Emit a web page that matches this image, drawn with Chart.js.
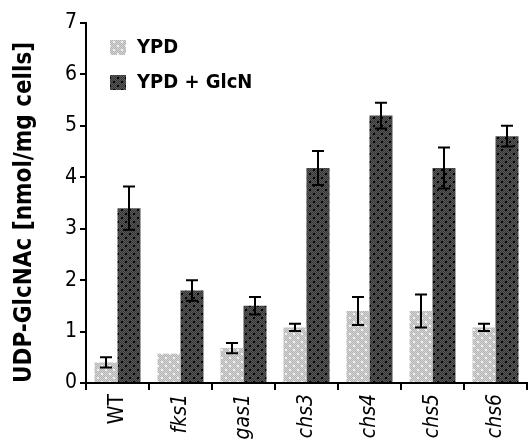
<!DOCTYPE html>
<html>
<head>
<meta charset="utf-8">
<script src="https://cdn.jsdelivr.net/npm/chart.js@4"></script>
<style>
  html, body { margin: 0; padding: 0; background: #fff; }
  #wrap { width: 528px; height: 444px; }
</style>
</head>
<body>
<div id="wrap"><canvas id="chart" width="528" height="444"></canvas></div>
<script>
const strains = ['WT', 'fks1', 'gas1', 'chs3', 'chs4', 'chs5', 'chs6'];
const ypd = [0.40, 0.57, 0.68, 1.08, 1.40, 1.40, 1.08];
const ypdErr = [0.10, 0, 0.10, 0.07, 0.27, 0.32, 0.07];
const glcn = [3.40, 1.80, 1.50, 4.18, 5.20, 4.18, 4.80];
const glcnErr = [0.42, 0.20, 0.17, 0.33, 0.25, 0.40, 0.20];
const yTicks = [0, 1, 2, 3, 4, 5, 6, 7];

const family = '"DejaVu Sans", "Liberation Sans", sans-serif';

function makePattern(base, speck, dot, size) {
    const c = document.createElement('canvas');
    c.width = size; c.height = size;
    const g = c.getContext('2d');
    g.fillStyle = base;
    g.fillRect(0, 0, size, size);
    g.fillStyle = speck;
    for (let y = 0; y < size; y++) {
        for (let x = 0; x < size; x++) {
            if ((x + y) % 2 === 0) g.fillRect(x, y, 1, 1);
        }
    }
    if (dot) {
        g.fillStyle = dot;
        g.fillRect(1, 1, 2, 2);
        g.fillRect(size / 2 + 1, size / 2 + 1, 2, 2);
    }
    return g.createPattern(c, 'repeat');
}

const lightFill = makePattern('#d4d4d4', '#b4b4b4', '#f2f2f2', 8);
const darkFill = makePattern('#585858', '#363636', '#000000', 8);

const errorBars = {
    id: 'errorBars',
    afterDatasetsDraw(chart) {
        const ctx = chart.ctx;
        const y = chart.scales.y;
        ctx.save();
        ctx.strokeStyle = '#000';
        ctx.lineWidth = 2;
        chart.data.datasets.forEach((ds, di) => {
            const meta = chart.getDatasetMeta(di);
            meta.data.forEach((bar, i) => {
                const e = ds.errors[i];
                if (!e) return;
                const v = ds.data[i];
                const top = y.getPixelForValue(v + e);
                const bot = y.getPixelForValue(v - e);
                const cap = 6;
                ctx.beginPath();
                ctx.moveTo(bar.x, top); ctx.lineTo(bar.x, bot);
                ctx.moveTo(bar.x - cap, top); ctx.lineTo(bar.x + cap, top);
                ctx.moveTo(bar.x - cap, bot); ctx.lineTo(bar.x + cap, bot);
                ctx.stroke();
            });
        });
        ctx.restore();
    }
};

// legend sits inside the plot, top left
const innerLegend = {
    id: 'innerLegend',
    afterDraw(chart) {
        const ctx = chart.ctx;
        const area = chart.chartArea;
        ctx.save();
        ctx.font = 'condensed bold 20px ' + family;
        ctx.textBaseline = 'middle';
        chart.data.datasets.forEach((ds, i) => {
            const bx = area.left + 24;
            const by = area.top + 17 + i * 35;
            ctx.fillStyle = ds.backgroundColor;
            ctx.fillRect(bx, by, 16, 15);
            ctx.fillStyle = '#000';
            ctx.fillText(ds.label, bx + 27, by + 8);
        });
        ctx.restore();
    }
};

new Chart(document.getElementById('chart'), {
    type: 'bar',
    data: {
        labels: strains,
        datasets: [
            { label: 'YPD', data: ypd, errors: ypdErr, backgroundColor: lightFill },
            { label: 'YPD + GlcN', data: glcn, errors: glcnErr, backgroundColor: darkFill }
        ]
    },
    options: {
        responsive: false,
        animation: false,
        categoryPercentage: 0.73,
        barPercentage: 1.0,
        layout: { padding: { top: 23, right: 1, left: 0, bottom: 0 } },
        plugins: {
            legend: { display: false },
            tooltip: { enabled: false }
        },
        scales: {
            x: {
                afterFit: (s) => { s.height = 61; },
                border: { color: '#000', width: 2 },
                grid: { offset: true, drawOnChartArea: false, color: '#000', lineWidth: 2, tickLength: 7 },
                ticks: {
                    color: '#000',
                    minRotation: 90,
                    maxRotation: 90,
                    padding: 4,
                    font: (c) => ({ family: family, size: 21, weight: 'condensed', style: c.index === 0 ? 'normal' : 'italic' })
                }
            },
            y: {
                min: 0,
                max: 7,
                afterBuildTicks: (s) => { s.ticks = yTicks.map(v => ({ value: v })); },
                afterFit: (s) => { s.width = 86; },
                border: { color: '#000', width: 2 },
                grid: { drawOnChartArea: false, color: '#000', lineWidth: 2, tickLength: 6 },
                ticks: { color: '#000', padding: 3, font: { family: family, size: 21, weight: 'condensed' } },
                title: {
                    display: true,
                    align: 'start',
                    text: 'UDP-GlcNAc [nmol/mg cells]',
                    color: '#000',
                    padding: { top: 10, bottom: 4 },
                    font: { family: family, size: 24, weight: 'condensed bold' }
                }
            }
        }
    },
    plugins: [errorBars, innerLegend]
});
</script>
</body>
</html>
